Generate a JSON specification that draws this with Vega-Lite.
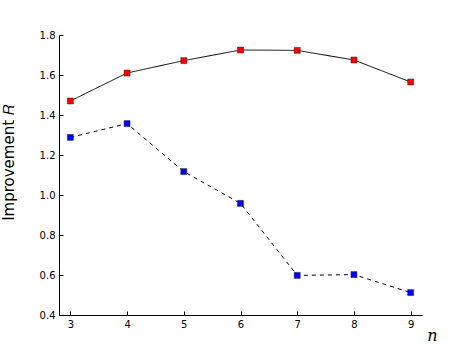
{
  "$schema": "https://vega.github.io/schema/vega-lite/v6.json",
  "width": 363,
  "height": 280,
  "autosize": {"type": "none"},
  "padding": {"left": 59, "top": 35, "right": 47, "bottom": 36},
  "background": "white",
  "config": {
    "view": {"stroke": null},
    "axis": {"grid": false, "domainColor": "black", "tickColor": "black", "labelFont": "DejaVu Sans", "labelFontSize": 10, "labelColor": "black", "titleColor": "black", "domainWidth": 1}
  },
  "data": {
    "values": [
      {"n": 3, "R": 1.47, "series": "a"},
      {"n": 4, "R": 1.61, "series": "a"},
      {"n": 5, "R": 1.672, "series": "a"},
      {"n": 6, "R": 1.725, "series": "a"},
      {"n": 7, "R": 1.723, "series": "a"},
      {"n": 8, "R": 1.675, "series": "a"},
      {"n": 9, "R": 1.565, "series": "a"},
      {"n": 3, "R": 1.288, "series": "b"},
      {"n": 4, "R": 1.357, "series": "b"},
      {"n": 5, "R": 1.117, "series": "b"},
      {"n": 6, "R": 0.958, "series": "b"},
      {"n": 7, "R": 0.598, "series": "b"},
      {"n": 8, "R": 0.602, "series": "b"},
      {"n": 9, "R": 0.512, "series": "b"}
    ]
  },
  "encoding": {
    "x": {"field": "n", "type": "quantitative", "scale": {"domain": [2.8, 9.2], "nice": false, "zero": false},
      "axis": {"values": [3,4,5,6,7,8,9], "tickSize": -4, "labelPadding": 8, "title": "n", "titleFont": "DejaVu Serif", "titleFontStyle": "italic", "titleFontWeight": "normal", "titleFontSize": 16, "titleX": 373, "titleY": 20, "titleBaseline": "middle", "titleAlign": "center"}},
    "y": {"field": "R", "type": "quantitative", "scale": {"domain": [0.4, 1.8], "nice": false, "zero": false},
      "axis": {"values": [0.4,0.6,0.8,1.0,1.2,1.4,1.6,1.8], "format": ".1f", "tickSize": -4, "labelPadding": 8, "title": "Improvement 𝑅", "titleFont": "DejaVu Sans", "titleFontWeight": "normal", "titleFontSize": 15, "titleX": -43, "titleY": 127, "titleAlign": "center"}}
  },
  "layer": [
    {
      "mark": {"type": "line", "color": "black", "strokeWidth": 1},
      "encoding": {
        "detail": {"field": "series"},
        "strokeDash": {"field": "series", "type": "nominal", "scale": {"domain": ["a", "b"], "range": [[1, 0], [4, 4]]}, "legend": null}
      }
    },
    {
      "mark": {"type": "point", "shape": "square", "filled": true, "size": 36, "opacity": 1, "stroke": "#222", "strokeWidth": 0.5},
      "encoding": {
        "fill": {"field": "series", "type": "nominal", "scale": {"domain": ["a", "b"], "range": ["#ff0000", "#0000ff"]}, "legend": null}
      }
    }
  ]
}
